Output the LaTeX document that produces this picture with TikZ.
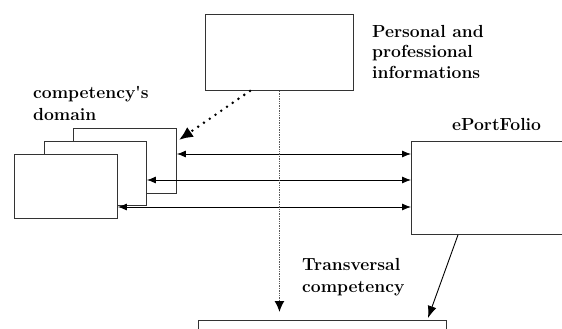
\documentclass[tikz,border=0pt]{standalone}
\usetikzlibrary{
    arrows.meta,
    calc
}

\begin{document}
\begin{tikzpicture}[x=1pt, y=-1pt,
    box/.style={draw=black!80, fill=white, line width=0.9pt, inner sep=0pt, anchor=north west},
    lbl/.style={font=\fontsize{17.5}{20.5}\selectfont\bfseries, align=left, anchor=north west, inner sep=0pt},
    link/.style={line width=0.8pt, {Latex[length=9pt,width=7pt]}-{Latex[length=9pt,width=7pt]}}]
    \useasboundingbox (0,0) rectangle (562,329);
    \clip (0,0) rectangle (562,329);
    \node[box, minimum width=148pt, minimum height=76pt] (info) at (205,14) {};
    \node[lbl] (infotxt) at (372,25) {Personal and\\professional\\informations};
    \node[lbl] (domtxt) at (33,86) {competency\textquotesingle s\\[2pt]domain};
    \node[box, minimum width=103pt, minimum height=65pt] (dom1) at (73,128) {};
    \node[box, minimum width=102pt, minimum height=64pt] (dom2) at (44,141) {};
    \node[box, minimum width=103pt, minimum height=64pt] (dom3) at (14,154) {};
    \node[lbl] (porttxt) at (452,118) {ePortFolio};
    \node[box, minimum width=200pt, minimum height=93pt] (port) at (411,141) {};
    \node[lbl] (transtxt) at (302,258) {Transversal\\[2pt]competency};
    \node[box, minimum width=248pt, minimum height=40pt] (trans) at (198,320) {};

    \draw[link] (dom1.east |- 0,154) -- (port.west |- 0,154);
    \draw[link] (dom2.east |- 0,180) -- (port.west |- 0,180);
    \draw[link] (dom3.east |- 0,207) -- (port.west |- 0,207);

    \draw[line width=2.8pt, line cap=round, dash pattern=on 0pt off 7pt, -{Latex[length=14pt,width=12pt]}]
        ($(info.south west)+(45,0)$) -- ($(dom1.north east)+(2,12)$);
    \draw[black!65, densely dotted, line width=1.4pt, -{Latex[length=11pt,width=10pt,black]}]
        (info.south) -- ($(info.south |- trans.north)+(0,-8)$);
    \draw[line width=0.9pt, -{Latex[length=12pt,width=9pt]}]
        ($(port.south west)+(47,0)$) -- ($(trans.north west)+(230,-2)$);
\end{tikzpicture}
\end{document}
